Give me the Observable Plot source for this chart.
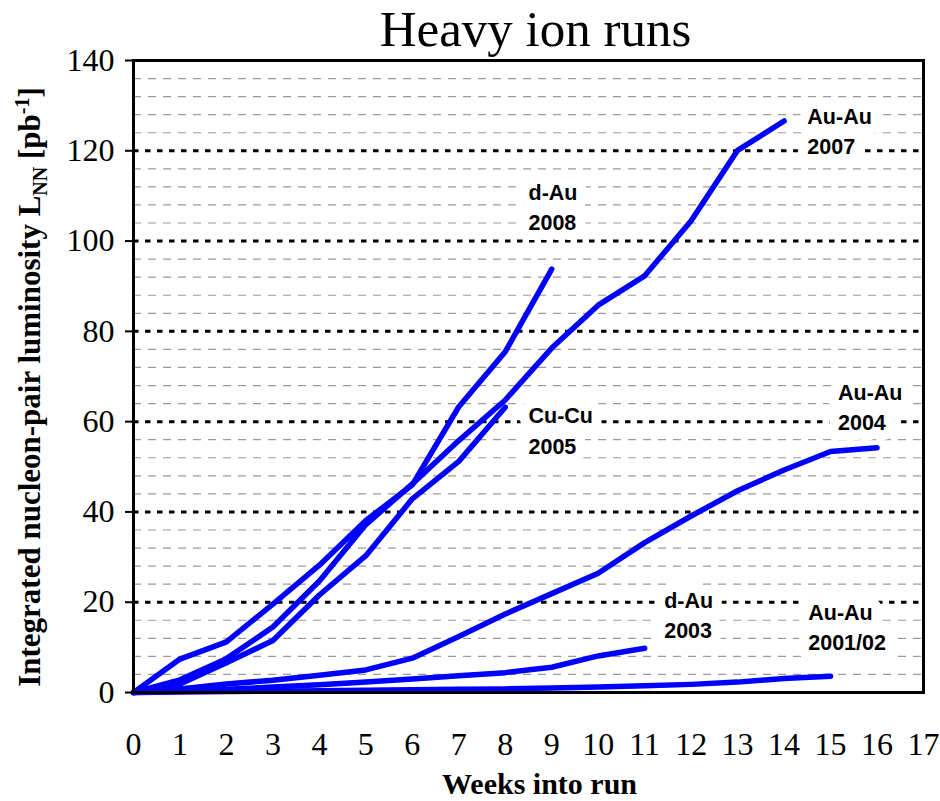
<!DOCTYPE html>
<html>
<head>
<meta charset="utf-8">
<script src="https://cdn.jsdelivr.net/npm/d3@7"></script>
<script src="https://cdn.jsdelivr.net/npm/@observablehq/plot@0.6"></script>
<style>
  body { margin: 0; background: #fff; }
  #chart svg { display: block; }
</style>
</head>
<body>
<div id="chart"></div>
<script>
// Integrated nucleon-pair luminosity per week of each heavy ion run (pb^-1)
const runNames = ["d-Au 2008", "Au-Au 2007", "Cu-Cu 2005", "Au-Au 2004", "d-Au 2003", "Au-Au 2001/02"];
const dAu2008  = [0, 7.4, 11.2, 19.6, 28.2, 38.1, 46, 63.3, 75.5, 93.8];
const auAu2007 = [0, 2.8, 7.5, 14.5, 24.7, 37.2, 46.2, 55.8, 64.8, 76.3, 85.8, 92.3, 104.5, 120.1, 126.6];
const cuCu2005 = [0, 1.9, 6.6, 11.5, 21.6, 30.3, 42.9, 51.2, 63.2];
const auAu2004 = [0, 0.8, 1.9, 2.7, 3.8, 5.0, 7.6, 12.4, 17.4, 21.9, 26.4, 33.2, 39.1, 44.7, 49.3, 53.4, 54.2];
const dAu2003  = [0, 0.3, 0.7, 1.2, 1.7, 2.3, 3.0, 3.7, 4.4, 5.6, 8.1, 9.8];
const auAu0102 = [0, 0.1, 0.2, 0.3, 0.4, 0.5, 0.6, 0.7, 0.8, 1.0, 1.2, 1.5, 1.8, 2.3, 3.1, 3.6];
const runValues = [dAu2008, auAu2007, cuCu2005, auAu2004, dAu2003, auAu0102];

// Run labels placed next to the curves (week, luminosity of the label block centre)
const labelText = ["d-Au\n2008", "Au-Au\n2007", "Cu-Cu\n2005", "Au-Au\n2004", "d-Au\n2003", "Au-Au\n2001/02"];
const labelWeek = [8.5, 14.5, 8.5, 15.16, 11.42, 14.52];
const labelLum  = [108.0, 124.8, 58.4, 63.6, 17.6, 14.95];

// Axis ticks and grid
const xTicks = d3.range(0, 18);
const yTicks = d3.range(0, 141, 20);
const majorGrid = d3.range(20, 121, 20);
const minorGrid = d3.range(4, 140, 4).filter(v => v % 20 !== 0);

const rows = runNames.flatMap((name, i) =>
  runValues[i].map((v, w) => ({run: name, week: w, lum: v})));
const labels = labelText.map((t, i) => ({text: t, week: labelWeek[i], lum: labelLum[i]}));

const serif = "'Liberation Serif', 'Times New Roman', serif";
const sans = "'Liberation Sans', Arial, sans-serif";

const chart = Plot.plot({
  width: 940,
  height: 801,
  marginLeft: 133,
  marginRight: 17,
  marginTop: 60,
  marginBottom: 109,
  style: {fontFamily: serif, fontSize: "32px", color: "black", background: "white"},
  x: {domain: [0, 17]},
  y: {domain: [0, 140]},
  marks: [
    Plot.ruleY(minorGrid, {stroke: "#9a9a9a", strokeWidth: 1.2, strokeDasharray: "8,7"}),
    Plot.ruleY(majorGrid, {stroke: "black", strokeWidth: 3, strokeDasharray: "5.5,6.5"}),
    Plot.text(labels, {
      x: "week", y: "lum", text: "text",
      textAnchor: "start", lineAnchor: "middle", lineHeight: 1.4,
      fontFamily: sans, fontWeight: "bold", fontSize: 21.5,
      fill: "black", stroke: "white", strokeWidth: 20
    }),
    Plot.line(rows, {
      x: "week", y: "lum", z: "run",
      stroke: "#0000ff", strokeWidth: 5.5,
      strokeLinejoin: "round", strokeLinecap: "round"
    }),
    Plot.axisX({ticks: xTicks, tickSize: 0, tickPadding: 40, label: null, fontSize: 32, fontFamily: serif}),
    Plot.axisY({ticks: yTicks, tickSize: 8, tickPadding: 11, strokeWidth: 2, label: null, fontSize: 32, fontFamily: serif}),
    Plot.frame({stroke: "black", strokeWidth: 3}),
    Plot.text(["Heavy ion runs"], {
      frameAnchor: "top", lineAnchor: "middle", dx: 7, dy: -31, text: d => d,
      fontFamily: serif, fontSize: 51, fill: "black"
    }),
    Plot.text(["Weeks into run"], {
      frameAnchor: "bottom", lineAnchor: "middle", dx: 11, dy: 92, text: d => d,
      fontFamily: serif, fontWeight: "bold", fontSize: 30, fill: "black"
    })
  ]
});

// Vertical axis title with subscript and superscript
const svg = d3.select(chart);
const yTitle = svg.append("text")
  .attr("transform", "translate(40,387) rotate(-90)")
  .attr("text-anchor", "middle")
  .attr("font-family", serif)
  .attr("font-weight", "bold")
  .attr("font-size", 31)
  .attr("fill", "black");
yTitle.append("tspan").text("Integrated nucleon-pair luminosity L");
yTitle.append("tspan").attr("font-size", 20).attr("dy", 7).text("NN");
yTitle.append("tspan").attr("dy", -7).text(" [pb");
yTitle.append("tspan").attr("font-size", 20).attr("dy", -11).text("-1");
yTitle.append("tspan").attr("dy", 11).text("]");

document.getElementById("chart").appendChild(chart);
</script>
</body>
</html>
